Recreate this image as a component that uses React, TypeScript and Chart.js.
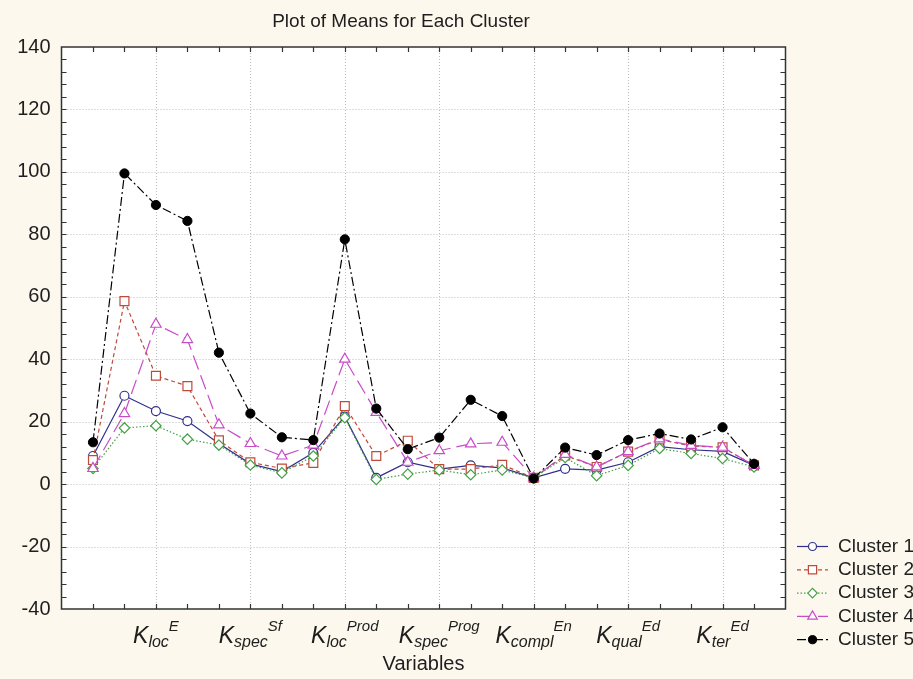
import React, { useEffect, useRef } from 'react';
import { Chart, registerables } from 'chart.js';
import { drawPoint } from 'chart.js/helpers';

Chart.register(...registerables);

// ---------- data ----------
const seriesNames = ['Cluster 1', 'Cluster 2', 'Cluster 3', 'Cluster 4', 'Cluster 5'];

const cluster1 = [9, 28.3, 23.4, 20.2, 13, 6.5, 4, 10, 21.6, 2, 7, 4.8, 6, 5.2, 2, 4.9, 4.5, 7, 12, 11, 10.5, 6];
const cluster2 = [7.7, 58.6, 34.7, 31.4, 14, 7, 5, 6.8, 25, 9, 13.9, 4.8, 4.8, 6.2, 2, 9.2, 5.5, 10.4, 14.3, 12.2, 11.8, 6];
const cluster3 = [5, 18, 18.7, 14.4, 12.5, 6.1, 3.6, 9, 21.3, 1.5, 3.2, 4.5, 3, 4.5, 2, 8.5, 2.7, 6, 11.4, 9.8, 8.2, 5.5];
const cluster4 = [5, 22.6, 51.2, 46.3, 19, 13, 9, 12.5, 40, 23, 7, 10.7, 12.9, 13.4, 2, 9.5, 5.5, 10.4, 14.5, 12.4, 11.8, 6];
const cluster5 = [13.4, 99.5, 89.4, 84.3, 42.1, 22.6, 15, 14.1, 78.4, 24.2, 11.2, 14.9, 27, 21.8, 1.8, 11.7, 9.3, 14.1, 16.2, 14.3, 18.2, 6.5];

const tickPositions = [2, 5, 8, 11, 14, 17, 20];
const tickBase = 'K';
const tickSubs = ['loc', 'spec', 'loc', 'spec', 'compl', 'qual', 'ter'];
const tickSups = ['E', 'Sf', 'Prod', 'Prog', 'En', 'Ed', 'Ed'];

const Y_MIN = -40;
const Y_MAX = 140;
const Y_STEP = 20;
const X_MIN = -1;
const X_MAX = 22;

const titleText = 'Plot of Means for Each Cluster';
const xTitleText = 'Variables';

// ---------- styles ----------
const FONT = 'Arial, "Liberation Sans", sans-serif';
const BG = '#fcf8ed';
const TEXT = '#1e1e1e';

const styles = [
  { color: '#30308c', dash: [], pointStyle: 'circle', radius: 4.5, fill: '#ffffff', bw: 1.2 },
  { color: '#bf4a3a', dash: [4, 3], pointStyle: 'rect', radius: 6.3, fill: '#ffffff', bw: 1.2 },
  { color: '#45a045', dash: [1.5, 2], pointStyle: 'rectRot', radius: 5.2, fill: '#ffffff', bw: 1.2 },
  { color: '#c84bc8', dash: [15, 6], pointStyle: 'triangle', radius: 6, fill: '#ffffff', bw: 1.2 },
  { color: '#000000', dash: [9, 3, 2, 3], pointStyle: 'circle', radius: 4.6, fill: '#000000', bw: 1 },
];

const seriesValues = [cluster1, cluster2, cluster3, cluster4, cluster5];

const decorPlugin = {
  id: 'decor',
  beforeDraw(chart: any) {
    const { ctx, chartArea: a, width, height } = chart;
    const xs = chart.scales.x;
    const ys = chart.scales.y;
    ctx.save();
    ctx.fillStyle = BG;
    ctx.fillRect(0, 0, width, height);
    ctx.fillStyle = '#ffffff';
    ctx.fillRect(a.left, a.top, a.right - a.left, a.bottom - a.top);
    ctx.strokeStyle = '#bcbcbc';
    ctx.lineWidth = 1;
    ctx.setLineDash([1, 2]);
    for (const t of ys.ticks) {
      if (t.value <= Y_MIN || t.value >= Y_MAX) continue;
      const y = Math.round(ys.getPixelForValue(t.value)) + 0.5;
      ctx.beginPath();
      ctx.moveTo(a.left, y);
      ctx.lineTo(a.right, y);
      ctx.stroke();
    }
    for (const p of tickPositions) {
      const x = Math.round(xs.getPixelForValue(p)) + 0.5;
      ctx.beginPath();
      ctx.moveTo(x, a.top);
      ctx.lineTo(x, a.bottom);
      ctx.stroke();
    }
    ctx.restore();
  },
  afterDatasetsDraw(chart: any) {
    const { ctx, chartArea: a } = chart;
    const xs = chart.scales.x;
    const ys = chart.scales.y;
    ctx.save();
    ctx.setLineDash([]);
    ctx.strokeStyle = '#333333';
    ctx.lineWidth = 1.5;
    ctx.strokeRect(a.left, a.top, a.right - a.left, a.bottom - a.top);
    ctx.lineWidth = 1.2;
    const tl = 5;
    for (let v = 0; v < X_MAX; v++) {
      const x = Math.round(xs.getPixelForValue(v)) + 0.5;
      ctx.beginPath();
      ctx.moveTo(x, a.bottom);
      ctx.lineTo(x, a.bottom - tl);
      ctx.moveTo(x, a.top);
      ctx.lineTo(x, a.top + tl);
      ctx.stroke();
    }
    for (let v = Y_MIN + 4; v < Y_MAX; v += 4) {
      const y = Math.round(ys.getPixelForValue(v)) + 0.5;
      ctx.beginPath();
      ctx.moveTo(a.left, y);
      ctx.lineTo(a.left + tl, y);
      ctx.moveTo(a.right, y);
      ctx.lineTo(a.right - tl, y);
      ctx.stroke();
    }
    ctx.restore();
  },
  afterDraw(chart: any) {
    const { ctx, chartArea: a } = chart;
    const xs = chart.scales.x;
    ctx.save();
    ctx.fillStyle = TEXT;
    ctx.textBaseline = 'alphabetic';
    ctx.textAlign = 'left';
    const fK = `italic 23px ${FONT}`;
    const fSub = `italic 16px ${FONT}`;
    const fSup = `italic 15px ${FONT}`;
    tickPositions.forEach((p, i) => {
      const x = xs.getPixelForValue(p);
      ctx.font = fK;
      const wK = ctx.measureText(tickBase).width;
      ctx.font = fSub;
      const wSub = ctx.measureText(tickSubs[i]).width;
      ctx.font = fSup;
      const wSup = ctx.measureText(tickSups[i]).width;
      const start = x - (wK + wSub + wSup) / 2;
      ctx.font = fK;
      ctx.fillText(tickBase, start, 643);
      ctx.font = fSub;
      ctx.fillText(tickSubs[i], start + wK, 647);
      ctx.font = fSup;
      ctx.fillText(tickSups[i], start + wK + wSub, 631);
    });
    // axis title
    ctx.font = `20px ${FONT}`;
    ctx.textAlign = 'center';
    ctx.fillText(xTitleText, (a.left + a.right) / 2, 670);
    // chart title
    ctx.font = `19px ${FONT}`;
    ctx.fillText(titleText, 401, 27);
    // legend
    const rowY0 = 546.5;
    const rowStep = 23.3;
    seriesNames.forEach((name, i) => {
      const s = styles[i];
      const y = rowY0 + i * rowStep;
      ctx.strokeStyle = s.color;
      ctx.lineWidth = 1.2;
      ctx.setLineDash(s.dash);
      ctx.beginPath();
      ctx.moveTo(797, y);
      ctx.lineTo(828, y);
      ctx.stroke();
      ctx.setLineDash([]);
      ctx.fillStyle = s.fill;
      ctx.strokeStyle = s.color;
      ctx.lineWidth = s.bw;
      drawPoint(ctx, { pointStyle: s.pointStyle, radius: s.radius - 0.5, rotation: 0, borderWidth: s.bw } as any, 812.5, y);
      ctx.fillStyle = TEXT;
      ctx.font = `19px ${FONT}`;
      ctx.textAlign = 'left';
      ctx.textBaseline = 'middle';
      ctx.fillText(name, 838, y);
    });
    ctx.restore();
  },
};

export default function App() {
  const canvasRef = useRef<HTMLCanvasElement | null>(null);

  useEffect(() => {
    const canvas = canvasRef.current;
    if (!canvas) return;
    const datasets = seriesValues.map((vals, i) => ({
      label: seriesNames[i],
      data: vals.map((v, j) => ({ x: j, y: v })),
      borderColor: styles[i].color,
      backgroundColor: styles[i].fill,
      borderWidth: 1.2,
      borderDash: styles[i].dash,
      pointStyle: styles[i].pointStyle as any,
      pointRadius: styles[i].radius,
      pointBorderWidth: styles[i].bw,
      pointBorderColor: styles[i].color,
      pointBackgroundColor: styles[i].fill,
      tension: 0,
      fill: false,
      order: 4 - i,
    }));
    const chart = new Chart(canvas, {
      type: 'line',
      data: { datasets },
      options: {
        animation: false,
        responsive: false,
        devicePixelRatio: 1,
        events: [],
        layout: { padding: { left: 0, right: 127.5, top: 47, bottom: 0 } },
        plugins: {
          legend: { display: false },
          title: { display: false },
          tooltip: { enabled: false },
        },
        scales: {
          x: {
            type: 'linear',
            min: X_MIN,
            max: X_MAX,
            grid: { display: false, drawTicks: false },
            border: { display: false },
            ticks: { display: false },
            afterFit: (scale: any) => {
              scale.height = 70;
            },
          },
          y: {
            type: 'linear',
            min: Y_MIN,
            max: Y_MAX,
            grid: { display: false, drawTicks: false },
            border: { display: false },
            ticks: {
              stepSize: Y_STEP,
              padding: 11,
              color: TEXT,
              font: { family: FONT, size: 20 },
            },
            afterFit: (scale: any) => {
              scale.width = 61.5;
            },
          },
        },
      },
      plugins: [decorPlugin],
    });
    return () => chart.destroy();
  }, []);

  return (
    <div style={{ position: 'absolute', left: 0, top: 0, width: 913, height: 679 }}>
      <canvas ref={canvasRef} width={913} height={679} style={{ display: 'block', width: 913, height: 679 }} />
    </div>
  );
}
